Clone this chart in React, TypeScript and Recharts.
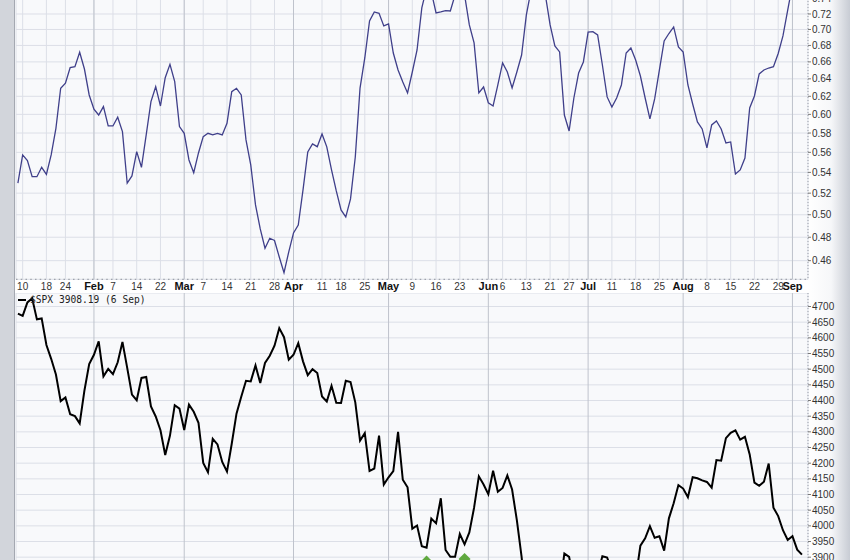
import React from 'react';
import { LineChart, ComposedChart, Line, Scatter, XAxis, YAxis, CartesianGrid, ReferenceLine } from 'recharts';

// Trading-day index 0 = 7 Jan 2022 ... 165 = 6 Sep 2022
const ratio = [
  0.5295, 0.5574, 0.5516, 0.5358, 0.5358, 0.545, 0.5381, 0.5574, 0.585, 0.6291,
  0.6349, 0.6531, 0.6543, 0.6716, 0.6515, 0.6215, 0.6056, 0.5993, 0.6085, 0.5875,
  0.5875, 0.5969, 0.5815, 0.5295, 0.5365, 0.5607, 0.545, 0.578, 0.614, 0.6309,
  0.6092, 0.6413, 0.6571, 0.6367, 0.5868, 0.5797, 0.5523, 0.5397, 0.5594, 0.5762,
  0.5797, 0.578, 0.5797, 0.578, 0.5904, 0.6252, 0.6291, 0.6215, 0.5728, 0.5474,
  0.509, 0.4873, 0.4705, 0.4791, 0.4772, 0.4631, 0.4501, 0.4674, 0.4838, 0.4908,
  0.5231, 0.5604, 0.5686, 0.5658, 0.579, 0.5656, 0.5424, 0.5221, 0.5044, 0.498,
  0.5146, 0.5553, 0.6294, 0.6647, 0.7109, 0.7226, 0.7209, 0.7045, 0.707, 0.6707,
  0.6504, 0.6364, 0.6238, 0.648, 0.6744, 0.7279, 0.7548, 0.7494, 0.7213, 0.7226,
  0.7243, 0.7239, 0.7453, 0.7589, 0.7453, 0.7058, 0.6831, 0.6238, 0.6306, 0.6126,
  0.6092, 0.6329, 0.6587, 0.648, 0.6294, 0.648, 0.6683, 0.7187, 0.7521, 0.7659,
  0.7589, 0.7453, 0.7058, 0.6793, 0.672, 0.5993, 0.5822, 0.6181, 0.6468, 0.6599,
  0.6968, 0.6972, 0.6931, 0.6563, 0.6193, 0.6081, 0.6181, 0.6329, 0.6707, 0.6769,
  0.6623, 0.6433, 0.6181, 0.595, 0.617, 0.6504, 0.6856, 0.6949, 0.7032, 0.6781,
  0.672, 0.6329, 0.6114, 0.5918, 0.5843, 0.5645, 0.5886, 0.5928, 0.5843, 0.5697,
  0.5707, 0.5384, 0.5424, 0.5543, 0.607, 0.6204, 0.6457, 0.6504, 0.6527, 0.6543,
  0.6702, 0.6918, 0.7252, 0.7589, 0.7799, 0.7942,
];

const spx = [
  4677, 4670, 4713, 4726, 4659, 4662, 4577, 4533, 4483, 4398,
  4410, 4356, 4350, 4327, 4432, 4516, 4546, 4589, 4477, 4501,
  4484, 4522, 4587, 4504, 4419, 4401, 4472, 4475, 4381, 4349,
  4305, 4226, 4288, 4385, 4374, 4306, 4387, 4364, 4329, 4201,
  4171, 4278, 4260, 4204, 4173, 4262, 4358, 4412, 4463, 4461,
  4512, 4456, 4520, 4543, 4575, 4631, 4602, 4530, 4546, 4583,
  4525, 4481, 4500, 4488, 4413, 4397, 4447, 4393, 4392, 4463,
  4459, 4394, 4272, 4296, 4175, 4183, 4288, 4132, 4155, 4175,
  4300, 4147, 4123, 3991, 4001, 3935, 3930, 4023, 4008, 4088,
  3923, 3901, 3901, 3974, 3941, 3979, 4058, 4158, 4132, 4101,
  4176, 4109, 4121, 4161, 4116, 4018, 3901, 3750, 3735, 3790,
  3667, 3675, 3765, 3760, 3796, 3912, 3901, 3821, 3819, 3785,
  3825, 3831, 3845, 3903, 3899, 3855, 3819, 3802, 3791, 3863,
  3831, 3937, 3960, 3999, 3962, 3967, 3921, 4024, 4072, 4130,
  4119, 4091, 4155, 4152, 4145, 4140, 4122, 4210, 4208, 4280,
  4297, 4305, 4275, 4284, 4228, 4138, 4128, 4141, 4199, 4058,
  4031, 3986, 3955, 3967, 3924, 3908.19,
];

const tickIndex = [1, 6, 10, 16, 20, 25, 30, 35, 39, 44, 49, 54, 58, 64, 68, 73, 78, 83, 88, 93, 99, 102, 107, 112, 116, 120, 125, 130, 135, 140, 145, 150, 155, 160, 163];
const tickLabels = ['10', '18', '24', 'Feb', '7', '14', '22', 'Mar', '7', '14', '21', '28', 'Apr', '11', '18', '25', 'May', '9', '16', '23', 'Jun', '6', '13', '21', '27', 'Jul', '11', '18', '25', 'Aug', '8', '15', '22', '29', 'Sep'];
const monthNames = ['Feb', 'Mar', 'Apr', 'May', 'Jun', 'Jul', 'Aug', 'Sep'];

const ratioTicks = [0.46, 0.48, 0.5, 0.52, 0.54, 0.56, 0.58, 0.6, 0.62, 0.64, 0.66, 0.68, 0.7, 0.72, 0.74];
const spxTicks = [3900, 3950, 4000, 4050, 4100, 4150, 4200, 4250, 4300, 4350, 4400, 4450, 4500, 4550, 4600, 4650, 4700];

const signalIndex = [86, 94];
const signalValue = [3886, 3894];

const monthIdx = tickIndex.filter((_, k) => monthNames.includes(tickLabels[k]));

const X_DOMAIN: [number, number] = [-0.4, 166.27];
const GRID = '#dcdfe7';
const MONTH_GRID = '#bfc3cc';
const BG = '#f8f9fb';

const DateTick = (props: any) => {
  const { x, y, payload } = props;
  const k = tickIndex.indexOf(payload.value);
  const label = k >= 0 ? tickLabels[k] : '';
  const isMonth = monthNames.includes(label);
  return (
    <text
      x={x}
      y={y + 10.7}
      textAnchor="middle"
      fontSize={isMonth ? 11 : 10}
      fontWeight={isMonth ? 'bold' : 'normal'}
      fill={isMonth ? '#111' : '#333'}
    >
      {label}
    </text>
  );
};

const Diamond = (props: any) => {
  const { cx, cy } = props;
  if (cx == null || cy == null) return null;
  return <path d={`M${cx},${cy - 6} L${cx + 6},${cy} L${cx},${cy + 6} L${cx - 6},${cy} Z`} fill="#5fa83e" />;
};

export default function App() {
  const ratioData = ratio.map((v, i) => ({ i, v }));
  const spxData = spx.map((v, i) => ({ i, v }));
  const sigData = signalIndex.map((i, k) => ({ i, v: signalValue[k] }));
  const font = '"Liberation Sans", Arial, sans-serif';

  return (
    <div
      style={{
        position: 'fixed',
        left: 0,
        top: 0,
        width: 850,
        height: 560,
        overflow: 'hidden',
        background: '#ffffff',
        fontFamily: font,
      }}
    >
      <div style={{ position: 'absolute', left: 0, top: 0, width: 14, height: 560, background: '#d2d5db', borderRight: '1px solid #a4a8b1' }} />
      <div
        style={{
          position: 'absolute',
          left: 808,
          top: 0,
          width: 42,
          height: 560,
          background: 'linear-gradient(to right, #ffffff 0%, #f6f7f9 55%, #c8ccd4 100%)',
        }}
      />

      {/* Top panel */}
      <div style={{ position: 'absolute', left: 0, top: -50 }}>
        <LineChart width={850} height={343.3} data={ratioData} margin={{ top: 0, right: 0, bottom: 0, left: 16 }}>
          <CartesianGrid fill={BG} stroke={GRID} strokeWidth={1} />
          <XAxis
            type="number"
            dataKey="i"
            domain={X_DOMAIN}
            allowDataOverflow
            ticks={tickIndex}
            interval={0}
            height={14}
            tickSize={0}
            tickMargin={0}
            tickLine={false}
            tick={<DateTick />}
            axisLine={{ stroke: '#8e929c', strokeDasharray: '1.5 3.25' }}
          />
          <YAxis
            orientation="right"
            width={42}
            type="number"
            scale="log"
            domain={[0.4447, 0.8087]}
            allowDataOverflow
            ticks={ratioTicks}
            interval={0}
            tickSize={3}
            tickMargin={1}
            tickFormatter={(v: number) => v.toFixed(2)}
            tick={{ fontSize: 10, fill: '#333' }}
            tickLine={{ stroke: '#777' }}
            axisLine={{ stroke: '#9a9ea8', strokeDasharray: '1 2' }}
          />
          {monthIdx.map((m) => (
            <ReferenceLine key={m} x={m} stroke={MONTH_GRID} strokeWidth={1} />
          ))}
          <Line type="linear" dataKey="v" stroke="#3f3f8a" strokeWidth={1.3} dot={false} isAnimationActive={false} />
        </LineChart>
      </div>

      {/* Bottom panel */}
      <div style={{ position: 'absolute', left: 0, top: 293.3 }}>
        <ComposedChart width={850} height={405.2} data={spxData} margin={{ top: 0, right: 0, bottom: 0, left: 16 }}>
          <CartesianGrid fill={BG} stroke={GRID} strokeWidth={1} />
          <XAxis
            type="number"
            dataKey="i"
            domain={X_DOMAIN}
            allowDataOverflow
            ticks={tickIndex}
            interval={0}
            orientation="top"
            height={0}
            tick={false}
            tickLine={false}
            axisLine={{ stroke: '#8e929c', strokeDasharray: '1.5 3.25' }}
          />
          <YAxis
            orientation="right"
            width={42}
            type="number"
            domain={[3450, 4743.1]}
            allowDataOverflow
            ticks={spxTicks}
            interval={0}
            tickSize={3}
            tickMargin={1}
            tick={{ fontSize: 10, fill: '#333' }}
            tickLine={{ stroke: '#777' }}
            axisLine={{ stroke: '#9a9ea8', strokeDasharray: '1 2' }}
          />
          {monthIdx.map((m) => (
            <ReferenceLine key={m} x={m} stroke={MONTH_GRID} strokeWidth={1} />
          ))}
          <Line type="linear" dataKey="v" stroke="#000000" strokeWidth={2} dot={false} isAnimationActive={false} />
          <Scatter data={sigData} dataKey="v" shape={<Diamond />} isAnimationActive={false} />
        </ComposedChart>
      </div>

      <div
        style={{
          position: 'absolute',
          left: 18,
          top: 294,
          fontFamily: '"DejaVu Sans Mono", monospace',
          fontSize: 9.6,
          color: '#222',
          whiteSpace: 'pre',
          lineHeight: '12px',
          display: 'flex',
          alignItems: 'center',
        }}
      >
        <span style={{ display: 'inline-block', width: 8, height: 2, background: '#000', marginRight: 4 }} />
        <span>$SPX 3908.19 (6 Sep)</span>
      </div>
    </div>
  );
}
